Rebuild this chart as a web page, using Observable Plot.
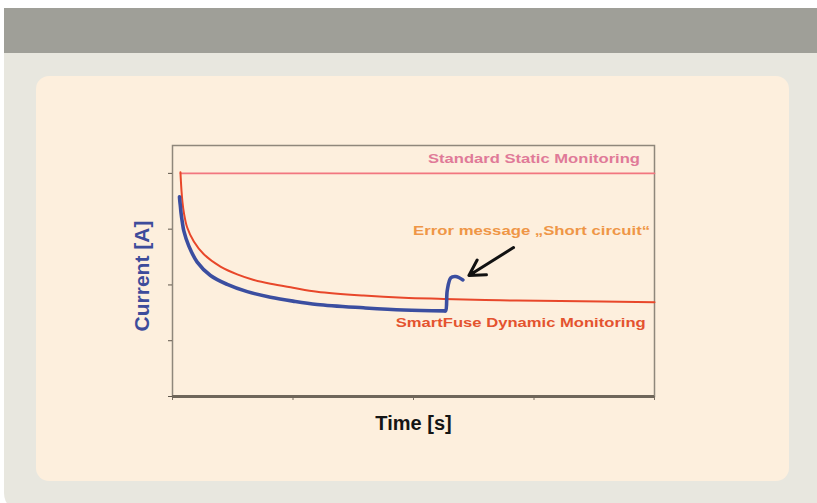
<!DOCTYPE html>
<html>
<head>
<meta charset="utf-8">
<script src="https://cdn.jsdelivr.net/npm/d3@7"></script>
<script src="https://cdn.jsdelivr.net/npm/@observablehq/plot@0.6"></script>
<style>
  html, body { margin: 0; padding: 0; background: #ffffff; width: 817px; height: 503px; overflow: hidden; }
  #header { position: absolute; left: 4px; top: 8px; width: 813px; height: 45px; background: #9f9f98; }
  #panel { position: absolute; left: 4px; top: 53px; width: 813px; height: 460px; background: #e8e7df; border-bottom-left-radius: 20px; }
  #card { position: absolute; left: 36px; top: 76px; width: 753px; height: 405px; background: #fdefdd; border-radius: 13px; }
  #chart { position: absolute; left: 36px; top: 76px; }
  #chart svg { background: transparent; overflow: visible; }
</style>
</head>
<body>
<div id="header"></div>
<div id="panel"></div>
<div id="card"></div>
<div id="chart"></div>
<script>
// ---- data ----
const timeStatic = [0.066, 4.0];
const currentStatic = [4.0, 4.0];

const timeDynamic = [0.066, 0.070, 0.075, 0.082, 0.094, 0.122, 0.177, 0.260, 0.398, 0.537, 0.675, 0.813, 1.0, 1.2, 1.585, 1.917, 2.25, 2.72, 3.22, 4.0];
const currentDynamic = [4.02, 3.85, 3.68, 3.50, 3.30, 3.03, 2.78, 2.55, 2.33, 2.19, 2.09, 2.02, 1.95, 1.88, 1.81, 1.77, 1.75, 1.725, 1.71, 1.69];

const timeMeasured = [0.058, 0.061, 0.066, 0.072, 0.082, 0.094, 0.135, 0.205, 0.315, 0.454, 0.620, 0.813, 1.0, 1.2, 1.585, 1.917, 2.25, 2.266, 2.28, 2.31, 2.35, 2.41];
const currentMeasured = [3.58, 3.50, 3.40, 3.27, 3.12, 2.97, 2.70, 2.41, 2.17, 2.01, 1.88, 1.78, 1.71, 1.65, 1.59, 1.55, 1.535, 1.535, 1.90, 2.13, 2.15, 2.09];

const xTicks = [0, 1, 2, 3, 4];
const yTicks = [0, 1, 2, 3, 4];

const labelTexts = ["Standard Static Monitoring", "Error message \u201EShort circuit\u201C", "SmartFuse Dynamic Monitoring"];
const labelTime = [3.0, 2.98, 2.89];
const labelCurrent = [4.27, 2.97, 1.32];
const labelColors = ["#e07a98", "#ef9646", "#e4532f"];
const labelWidths = [212, 237, 250];

const arrowFrom = {time: 2.83, current: 2.67};
const arrowTo = {time: 2.46, current: 2.17};

const xTitle = "Time [s]";
const yTitle = "Current [A]";

// ---- tables built from arrays ----
const staticData = timeStatic.map((t, i) => ({t, c: currentStatic[i]}));
const dynamicData = timeDynamic.map((t, i) => ({t, c: currentDynamic[i]}));
const measuredData = timeMeasured.map((t, i) => ({t, c: currentMeasured[i]}));
const labels = labelTexts.map((s, i) => ({s, t: labelTime[i], c: labelCurrent[i], color: labelColors[i], w: labelWidths[i]}));

const font = "'Liberation Sans', Arial, sans-serif";

const plot = Plot.plot({
  width: 753,
  height: 405,
  marginLeft: 136,
  marginRight: 135,
  marginTop: 69,
  marginBottom: 85,
  style: {background: "transparent", fontFamily: font},
  x: {domain: [0, 4]},
  y: {domain: [0, 4.5]},
  marks: [
    Plot.frame({stroke: "#8f877b", strokeWidth: 1.5}),
    Plot.axisX({ticks: xTicks, tickFormat: () => "", tickSize: 4, stroke: "#7a7064", label: null}),
    Plot.axisY({ticks: yTicks, tickFormat: () => "", tickSize: 4, stroke: "#5f574c", label: null}),
    Plot.ruleY([0], {stroke: "#6f665a", strokeWidth: 3}),
    Plot.line(staticData, {x: "t", y: "c", stroke: "#f2767f", strokeWidth: 1.6}),
    Plot.line(dynamicData, {x: "t", y: "c", stroke: "#e8472a", strokeWidth: 2, curve: "catmull-rom"}),
    Plot.line(measuredData, {x: "t", y: "c", stroke: "#3b4ea0", strokeWidth: 3.6, curve: "catmull-rom", strokeLinejoin: "round"}),
    Plot.arrow([{}], {x1: () => arrowFrom.time, y1: () => arrowFrom.current, x2: () => arrowTo.time, y2: () => arrowTo.current, stroke: "#111", strokeWidth: 3, headLength: 12}),
    Plot.text(labels, {x: "t", y: "c", text: "s", fill: "color", fontSize: 13.5, fontWeight: "bold", fontFamily: font, lineAnchor: "middle", textAnchor: "middle", className: "anno"}),
    Plot.text([yTitle], {frameAnchor: "left", dx: -30, dy: 5, rotate: -90, fill: "#3d4c9b", fontSize: 21, fontWeight: "bold", fontFamily: font, lineAnchor: "middle", textAnchor: "middle"}),
    Plot.text([xTitle], {frameAnchor: "bottom", dy: 27, fill: "#151515", fontSize: 20, fontWeight: "bold", fontFamily: font, lineAnchor: "middle", textAnchor: "middle"})
  ]
});
document.getElementById("chart").appendChild(plot);
d3.select(plot).selectAll("g.anno text").each(function(d, i) {
  const idx = typeof d === "number" ? d : i;
  this.setAttribute("textLength", labels[idx].w);
  this.setAttribute("lengthAdjust", "spacingAndGlyphs");
});
</script>
</body>
</html>
